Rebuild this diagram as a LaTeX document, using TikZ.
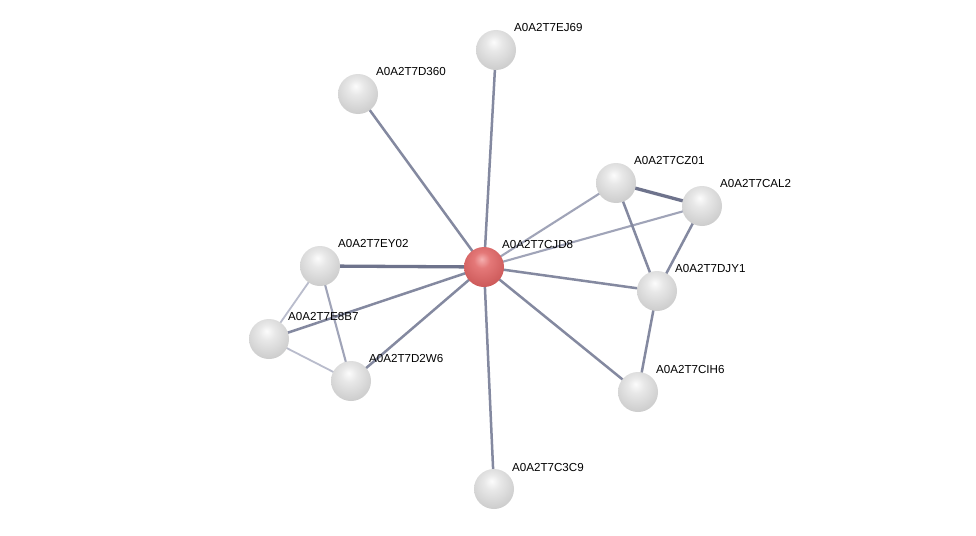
\documentclass[tikz,border=0pt]{standalone}
\usepackage{fontspec}
\setmainfont{Liberation Sans}
\usetikzlibrary{shapes.geometric}
\definecolor{edgec}{RGB}{132,137,160}
\definecolor{edged}{RGB}{110,115,140}
\definecolor{edgel}{RGB}{160,164,184}
\definecolor{edgevl}{RGB}{185,188,204}
\definecolor{b0}{RGB}{252,252,252}
\definecolor{b1}{RGB}{232,232,232}
\definecolor{b2}{RGB}{205,205,205}
\definecolor{b3}{RGB}{160,160,160}
\definecolor{r0}{RGB}{245,175,175}
\definecolor{r1}{RGB}{228,120,120}
\definecolor{r2}{RGB}{205,90,90}
\definecolor{r3}{RGB}{150,50,50}
\pgfdeclareradialshading{grayball}{\pgfpoint{-3bp}{10bp}}{color(0bp)=(b0); color(10bp)=(b1); color(30bp)=(b2); color(52bp)=(b3); color(70bp)=(b3)}
\pgfdeclareradialshading{redball}{\pgfpoint{-3bp}{10bp}}{color(0bp)=(r0); color(10bp)=(r1); color(30bp)=(r2); color(52bp)=(r3); color(70bp)=(r3)}
\tikzset{
  prot/.style={circle, minimum size=40pt, inner sep=0pt, shading=grayball, draw=none},
  query/.style={circle, minimum size=40pt, inner sep=0pt, shading=redball, draw=none},
  lbl/.style={anchor=west, inner sep=1pt, font=\fontsize{11.6}{13}\selectfont},
  e/.style={draw=edgec, line width=2.5pt},
  ed/.style={draw=edged, line width=3.3pt},
  el/.style={draw=edgel, line width=2.1pt},
  evl/.style={draw=edgevl, line width=1.8pt},
}
\begin{document}
\begin{tikzpicture}[x=1pt,y=-1pt]
\useasboundingbox (0,0) rectangle (976,535);
\fill[white] (0,0) rectangle (976,535);
\coordinate (cJD8) at (484,267);
\coordinate (cEJ69) at (496,50);
\coordinate (cD360) at (358,94);
\coordinate (cCZ01) at (616,183);
\coordinate (cCAL2) at (702,206);
\coordinate (cEY02) at (320,266);
\coordinate (cDJY1) at (657,291);
\coordinate (cE8B7) at (269,339);
\coordinate (cD2W6) at (351,381);
\coordinate (cCIH6) at (638,392);
\coordinate (cC3C9) at (494,489);
% edges
\draw[e] (cJD8) -- (cEJ69);
\draw[e] (cJD8) -- (cD360);
\draw[el] (cJD8) -- (cCZ01);
\draw[el] (cJD8) -- (cCAL2);
\draw[ed] (cJD8) -- (cEY02);
\draw[e] (cJD8) -- (cDJY1);
\draw[e] (cJD8) -- (cE8B7);
\draw[e] (cJD8) -- (cD2W6);
\draw[e] (cJD8) -- (cCIH6);
\draw[e] (cJD8) -- (cC3C9);
\draw[ed] (cCZ01) -- (cCAL2);
\draw[e] (cCZ01) -- (cDJY1);
\draw[e] (cCAL2) -- (cDJY1);
\draw[e] (cDJY1) -- (cCIH6);
\draw[evl] (cEY02) -- (cE8B7);
\draw[el] (cEY02) -- (cD2W6);
\draw[evl] (cE8B7) -- (cD2W6);
% nodes
\node[query] (JD8) at (cJD8) {};
\node[prot] (EJ69) at (cEJ69) {};
\node[prot] (D360) at (cD360) {};
\node[prot] (CZ01) at (cCZ01) {};
\node[prot] (CAL2) at (cCAL2) {};
\node[prot] (EY02) at (cEY02) {};
\node[prot] (DJY1) at (cDJY1) {};
\node[prot] (E8B7) at (cE8B7) {};
\node[prot] (D2W6) at (cD2W6) {};
\node[prot] (CIH6) at (cCIH6) {};
\node[prot] (C3C9) at (cC3C9) {};
% labels
\node[lbl] (lJD8) at (501,245) {A0A2T7CJD8};
\node[lbl] (lEJ69) at (513,28) {A0A2T7EJ69};
\node[lbl] (lD360) at (375,72) {A0A2T7D360};
\node[lbl] (lCZ01) at (633,161) {A0A2T7CZ01};
\node[lbl] (lCAL2) at (719,184) {A0A2T7CAL2};
\node[lbl] (lEY02) at (337,244) {A0A2T7EY02};
\node[lbl] (lDJY1) at (674,269) {A0A2T7DJY1};
\node[lbl] (lE8B7) at (287,317) {A0A2T7E8B7};
\node[lbl] (lD2W6) at (368,359) {A0A2T7D2W6};
\node[lbl] (lCIH6) at (655,370) {A0A2T7CIH6};
\node[lbl] (lC3C9) at (511,467) {A0A2T7C3C9};
\end{tikzpicture}
\end{document}
